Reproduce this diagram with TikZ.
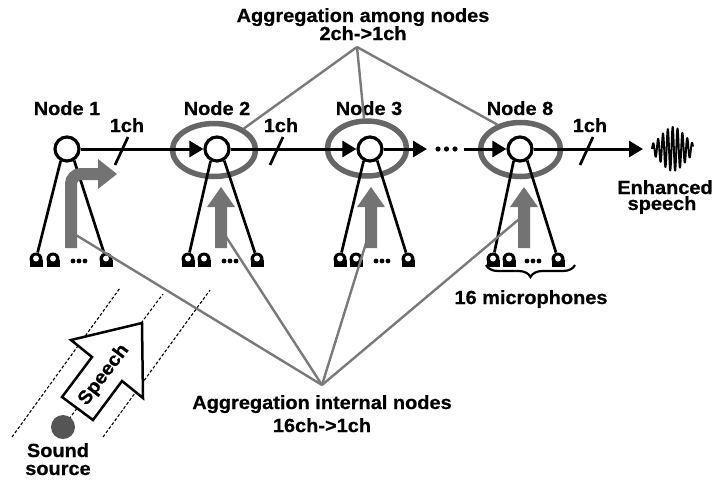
\documentclass[tikz,border=0pt]{standalone}
\usepackage{fontspec}
\setmainfont{Liberation Sans}[BoldFont={Liberation Sans Bold}, BoldFeatures={FakeStretch=1.05, FakeBold=0.6}]
\usetikzlibrary{arrows.meta,decorations.pathreplacing,shapes.geometric}
\definecolor{ellgray}{HTML}{666666}
\definecolor{linegray}{HTML}{7A7A7A}
\definecolor{arrgray}{HTML}{737373}
\definecolor{srcgray}{HTML}{555555}
\newcommand\mymic[2]{%
  \node[micnode] (#1) at (#2,259) {};
  \fill[black] (#2-6.5,259.5) rectangle (#2+6.5,266.5);
  \fill[white] (#2,258.5) circle[radius=3];
}
\newcommand\mydots[2]{%
  \fill (#1,#2) circle[radius=2.4] (#1+6,#2) circle[radius=2.4] (#1+12,#2) circle[radius=2.4];
}
\begin{document}
\begin{tikzpicture}[x=1pt,y=-1pt,
  lbl/.style={font=\bfseries\fontsize{19}{18}\selectfont, inner sep=0pt, anchor=base},
  nd/.style={circle, draw=black, line width=3.2pt, minimum size=24pt, inner sep=0pt, fill=white},
  micnode/.style={circle, fill=black, minimum size=13pt, inner sep=0pt},
  wire/.style={line width=2.7pt, black},
  ell/.style={ellipse, draw=ellgray, line width=5.5pt, inner sep=0pt},
  gline/.style={line width=2.4pt, draw=linegray},
  flow/.style={line width=3pt, -{Triangle[length=14pt,width=16pt]}},
  garr/.style={fill=arrgray},
  dline/.style={line width=1.1pt, dash pattern=on 3pt off 2pt},
  ]
\useasboundingbox (0,0) rectangle (717,482);

% ---------- sound source and speech arrow ----------
\draw[dline] (12,437) -- (120,288);
\draw[dline] (103,437) -- (210,290);
\draw[dline] (63,427) -- (163,294);
\draw[line width=2.5pt, fill=white, line join=miter]
  (62,397) -- (92,357) -- (71,340) -- (142,323) -- (143,398) -- (122,381) -- (93,420) -- cycle;
\node[lbl, anchor=center, rotate=53] (sp) at (104,375) {Speech};
\node[circle, fill=srcgray, minimum size=24pt, inner sep=0pt] (src) at (63,427) {};
\node[lbl] (s1) at (58,457) {Sound};
\node[lbl] (s2) at (58,475) {source};

% ---------- nodes ----------
\node[ell, minimum width=83pt, minimum height=53pt] (e2) at (214,150) {};
\node[ell, minimum width=79pt, minimum height=55pt] (e3) at (367,148.5) {};
\node[ell, minimum width=80pt, minimum height=54pt] (e8) at (520.5,149.5) {};

\node[nd] (n1) at (67,149) {};
\node[nd] (n2) at (217,149) {};
\node[nd] (n3) at (370,149) {};
\node[nd] (n8) at (520,149) {};

\node[lbl] (l1) at (67,115) {Node 1};
\node[lbl] (l2) at (217,115) {Node 2};
\node[lbl] (l3) at (369,115) {Node 3};
\node[lbl] (l8) at (520,115) {Node 8};

% ---------- aggregation among nodes ----------
\node[lbl] (ta) at (363,22) {Aggregation among nodes};
\node[lbl] (tb) at (363,40) {2ch->1ch};
\coordinate (at) at (357,47);
\draw[gline] (at) -- (e2);
\draw[gline] (at) -- (e3);
\draw[gline] (at) -- (e8.133);

% ---------- microphones ----------
\mymic{m1a}{36}\mymic{m1b}{53}\mymic{m1c}{106}\mydots{73}{261}
\mymic{m2a}{188}\mymic{m2b}{204}\mymic{m2c}{257}\mydots{224}{261}
\mymic{m3a}{340}\mymic{m3b}{356}\mymic{m3c}{408}\mydots{376}{261}
\mymic{m8a}{493}\mymic{m8b}{509}\mymic{m8c}{558}\mydots{527}{261}

\draw[wire] (n1.-118) -- (m1a);
\draw[wire] (n1.-58) -- (m1c);
\draw[wire] (n2.-118) -- (m2a);
\draw[wire] (n2.-58) -- (m2c);
\draw[wire] (n3.-118) -- (m3a);
\draw[wire] (n3.-58) -- (m3c);
\draw[wire] (n8.-118) -- (m8a);
\draw[wire] (n8.-58) -- (m8c);

% ---------- aggregation internal nodes ----------
\coordinate (ab) at (322,385);
\coordinate (g1) at (71,232);
\coordinate (g2) at (221,229);
\coordinate (g3) at (371,227);
\coordinate (g8) at (524,215);
\draw[gline] (ab) -- (g1);
\draw[gline] (ab) -- (g2);
\draw[gline] (ab) -- (g3);
\draw[gline] (ab) -- (g8);
\node[lbl] (ia) at (322,409) {Aggregation internal nodes};
\node[lbl] (ib) at (322,432) {16ch->1ch};

% gray block arrows
\draw[line width=12pt, draw=arrgray, rounded corners=10pt] (71,248) -- (71,174) -- (100,174);
\fill[garr] (98,159) -- (117,174) -- (98,189) -- cycle;
\foreach \cx in {221,371,524}{
  \fill[garr] (\cx-6,248) -- (\cx-6,207) -- (\cx-14,207) -- (\cx,187) -- (\cx+14,207) -- (\cx+6,207) -- (\cx+6,248) -- cycle;
}

% ---------- main flow ----------
\coordinate (c3) at (427,149);
\coordinate (c8) at (464,149);
\coordinate (out) at (643,149);
\draw[flow] (n1) -- (n2);
\draw[flow] (n2) -- (n3);
\draw[flow] (n3) -- (c3);
\fill (438,149) circle[radius=2.6] (446.5,149) circle[radius=2.6] (455,149) circle[radius=2.6];
\draw[flow] (c8) -- (n8);
\draw[flow] (n8) -- (out);

\draw[wire] (115,165) -- (128,137);
\draw[wire] (270,165) -- (283,137);
\draw[wire] (580,165) -- (593,137);
\node[lbl] (c1) at (127,132) {1ch};
\node[lbl] (c2) at (281,132) {1ch};
\node[lbl] (c9) at (590,132) {1ch};

% ---------- output ----------
\draw[line width=1.9pt, line join=round] plot[domain=0:41, samples=300]
  ({652+\x}, {149 - 22*exp(-((\x-21)/17)^2)*sin(\x*74)});
\node[lbl] (en) at (665,194) {Enhanced};
\node[lbl] (es) at (662,210) {speech};

% ---------- brace ----------
\draw[line width=2.2pt, decorate, decoration={brace, mirror, amplitude=12pt}] (486,265) -- (575,265);
\node[lbl] (mc) at (531,304) {16 microphones};
\end{tikzpicture}
\end{document}
